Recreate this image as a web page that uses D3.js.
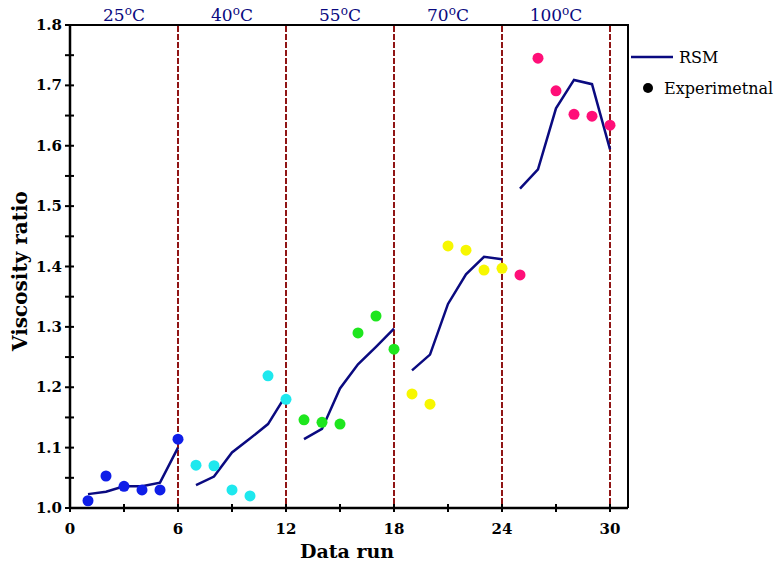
<!DOCTYPE html>
<html><head><meta charset="utf-8">
<script src="https://cdn.jsdelivr.net/npm/d3@7"></script>
<style>body{margin:0;background:#fff}svg{display:block}</style>
</head><body>
<svg id="c" width="782" height="567"></svg>
<script>
const runs = d3.range(1, 31);
const expValues = [1.012,1.053,1.036,1.030,1.030,1.114,
  1.071,1.070,1.030,1.020,1.219,1.180,
  1.146,1.142,1.139,1.290,1.318,1.263,
  1.189,1.172,1.434,1.427,1.394,1.397,
  1.386,1.745,1.691,1.652,1.649,1.634];
const rsmValues = [1.023,1.027,1.036,1.036,1.042,1.100,
  1.038,1.052,1.092,1.115,1.139,1.187,
  1.114,1.131,1.198,1.238,1.267,1.297,
  1.228,1.254,1.338,1.387,1.416,1.412,
  1.529,1.561,1.662,1.709,1.702,1.594];
const groupLabels = ["25","40","55","70","100"];
const groupColors = ["#0f1ee8","#1ee8ee","#1ee61e","#f7f700","#ff0f78"];
const xTicks = [0,6,12,18,24,30];
const yTicks = [1.0,1.1,1.2,1.3,1.4,1.5,1.6,1.7,1.8];

const svg = d3.select("#c");
const x = d3.scaleLinear().domain([0,31]).range([70,628]);
const y = d3.scaleLinear().domain([1.0,1.8]).range([508,25]);
const font = "'DejaVu Serif', serif";
const navy = "#0a0a80";

// frame top & right
svg.append("path").attr("d",`M${x(0)},${y(1.8)}H${x(31)}V${y(1.0)}`)
  .attr("fill","none").attr("stroke","#000").attr("stroke-width",2);

// dashed separators
svg.selectAll(".sep").data([6,12,18,24,30]).join("line")
  .attr("x1",d=>x(d)).attr("x2",d=>x(d)).attr("y1",y(1.8)+1).attr("y2",y(1.0))
  .attr("stroke","#901515").attr("stroke-width",2).attr("stroke-dasharray","6,2");

// axes
const xAxisG = svg.append("g").attr("transform",`translate(0,${y(1.0)})`);
xAxisG.append("line").attr("x1",x(0)).attr("x2",x(31)).attr("stroke","#000").attr("stroke-width",2.5);
xAxisG.selectAll(".xt").data(d3.range(0,31,3)).join("line")
  .attr("x1",d=>x(d)).attr("x2",d=>x(d)).attr("y1",-4).attr("y2",4)
  .attr("stroke","#000").attr("stroke-width",2);
xAxisG.selectAll(".xl").data(xTicks).join("text")
  .attr("x",d=>x(d)).attr("y",26).attr("text-anchor","middle")
  .attr("font-family",font).attr("font-weight","bold").attr("font-size",15)
  .text(d=>d);

const yAxisG = svg.append("g").attr("transform",`translate(${x(0)},0)`);
yAxisG.append("line").attr("y1",y(1.8)-1).attr("y2",y(1.0)+1).attr("stroke","#000").attr("stroke-width",2.5);
yAxisG.selectAll(".yt").data(d3.range(0,17).map(i=>1+i*0.05)).join("line")
  .attr("y1",d=>y(d)).attr("y2",d=>y(d)).attr("x1",-5).attr("x2",4)
  .attr("stroke","#000").attr("stroke-width",2);
yAxisG.selectAll(".yl").data(yTicks).join("text")
  .attr("x",-8).attr("y",d=>y(d)+5).attr("text-anchor","end")
  .attr("font-family",font).attr("font-weight","bold").attr("font-size",15)
  .text(d=>d.toFixed(1));

// axis titles
svg.append("text").attr("x",347).attr("y",558).attr("text-anchor","middle")
  .attr("font-family",font).attr("font-weight","bold").attr("font-size",19).text("Data run");
svg.append("text").attr("transform",`translate(27,271) rotate(-90)`).attr("text-anchor","middle")
  .attr("font-family",font).attr("font-weight","bold").attr("font-size",20).text("Viscosity ratio");

// temperature labels
groupLabels.forEach((g,i)=>{
  const t = svg.append("text").attr("x",x(3+6*i)).attr("y",21).attr("text-anchor","middle")
    .attr("font-family",font).attr("font-size",17).attr("fill",navy);
  t.append("tspan").text(g);
  t.append("tspan").attr("font-size",12).attr("dy",-6).text("o");
  t.append("tspan").attr("dy",6).text("C");
});

// RSM lines per group
const line = d3.line().x(d=>x(d[0])).y(d=>y(d[1]));
for (let gi=0; gi<5; gi++){
  const pts = runs.slice(gi*6,gi*6+6).map((r,k)=>[r,rsmValues[gi*6+k]]);
  svg.append("path").attr("d",line(pts)).attr("fill","none")
    .attr("stroke",navy).attr("stroke-width",2.5);
}

// experimental points
svg.selectAll(".pt").data(runs).join("circle")
  .attr("cx",d=>x(d)).attr("cy",(d,i)=>y(expValues[i])).attr("r",5.5)
  .attr("fill",(d,i)=>groupColors[Math.floor(i/6)]);

// legend
svg.append("line").attr("x1",631).attr("x2",673).attr("y1",57).attr("y2",57)
  .attr("stroke",navy).attr("stroke-width",2.5);
svg.append("text").attr("x",679).attr("y",63).attr("font-family",font).attr("font-size",16).text("RSM");
svg.append("circle").attr("cx",648).attr("cy",88).attr("r",5).attr("fill","#000");
svg.append("text").attr("x",664).attr("y",94).attr("font-family",font).attr("font-size",16).text("Experimetnal");
</script>
</body></html>
